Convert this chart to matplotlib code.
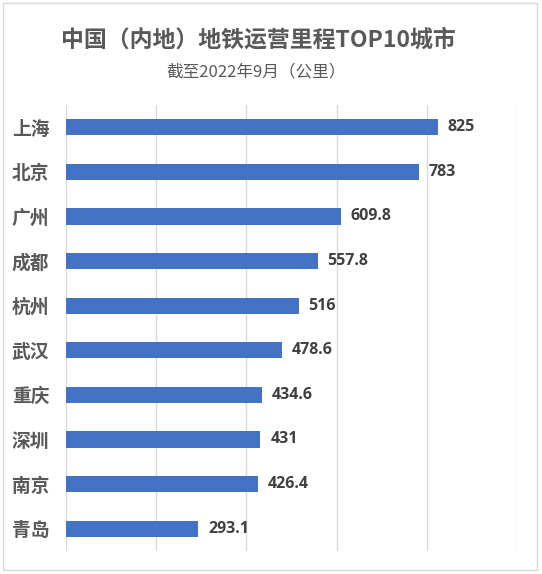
import matplotlib
matplotlib.use("Agg")
import matplotlib.pyplot as plt
from matplotlib.patches import Rectangle

plt.rcParams['font.family'] = ['Noto Sans CJK SC', 'DejaVu Sans']

# 数据
cities = ["上海", "北京", "广州", "成都", "杭州", "武汉", "重庆", "深圳", "南京", "青岛"]
km = [825, 783, 609.8, 557.8, 516, 478.6, 434.6, 431, 426.4, 293.1]
km_labels = ["825", "783", "609.8", "557.8", "516", "478.6", "434.6", "431", "426.4", "293.1"]

fig = plt.figure(figsize=(5.42, 5.74), dpi=100)
ax = fig.add_axes([66 / 542, 1 - 551 / 574, (517 - 66) / 542, (551 - 105) / 574])

pos = list(range(len(cities)))
ax.barh(pos, km, height=0.36, color="#4472C4", zorder=3)
for p, v, s in zip(pos, km, km_labels):
    ax.text(v + 22, p, s, va="center", ha="left", fontsize=11.5,
            fontweight="bold", color="#404040", family=["Open Sans", "DejaVu Sans"])

ax.set_xlim(0, 1000)
ax.set_ylim(len(cities) - 0.5, -0.5)
ax.set_xticks(range(0, 1001, 200))
ax.set_xticklabels([])
ax.tick_params(axis="x", length=0)
ax.tick_params(axis="y", length=0, pad=12)
ax.set_yticks(pos)
ax.set_yticklabels(cities, fontsize=13.5, fontweight="bold", color="#595959")
ax.grid(axis="x", color="#D9D9D9", linewidth=1, zorder=0)
for sp in ax.spines.values():
    sp.set_visible(False)

fig.text(258 / 542, 1 - 40 / 574, "中国（内地）地铁运营里程TOP10城市", ha="center", va="center",
         fontsize=16.5, fontweight="bold", color="#595959")
fig.text(256 / 542, 1 - 72 / 574, "截至2022年9月（公里）", ha="center", va="center",
         fontsize=12, color="#595959")

fig.patches.append(Rectangle((3 / 542, 4 / 574), 534 / 542, 567 / 574, transform=fig.transFigure,
                             fill=False, edgecolor="#D9D9D9", linewidth=1))

fig.savefig("out.png", dpi=100)
